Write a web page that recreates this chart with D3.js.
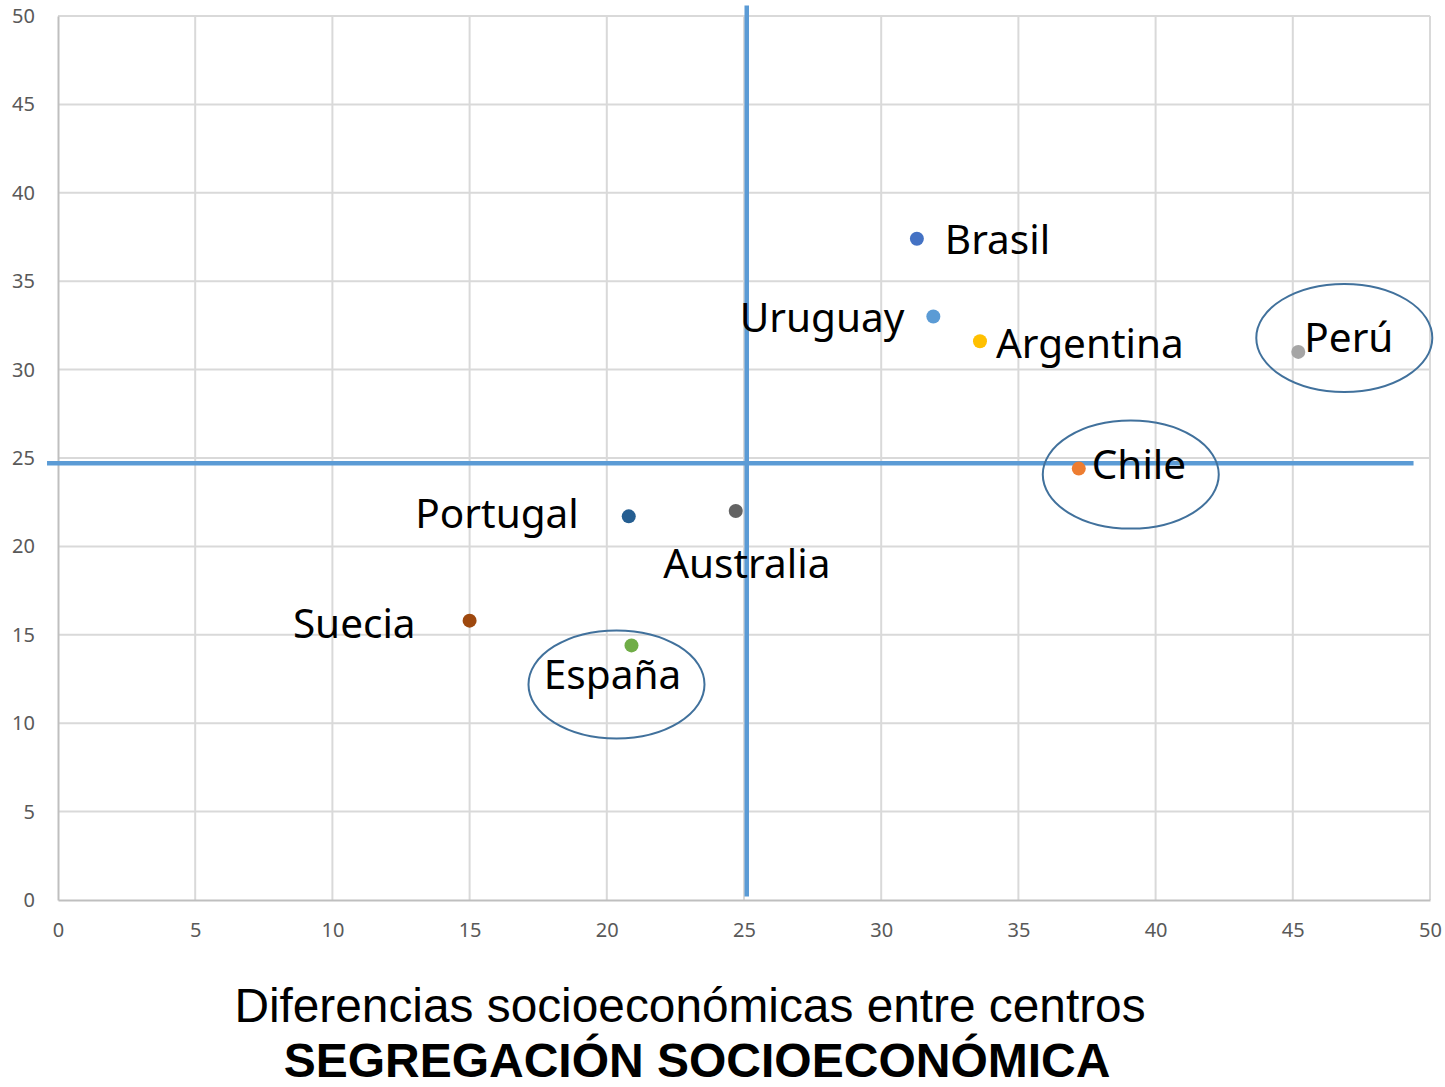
<!DOCTYPE html>
<html>
<head>
<meta charset="utf-8">
<script src="https://cdn.jsdelivr.net/npm/d3@7/dist/d3.min.js"></script>
<style>
  html, body { margin: 0; padding: 0; background: #fff; }
  svg { display: block; }
</style>
</head>
<body>
<svg id="chart" width="1445" height="1087"></svg>
<script>
// ---- Data ----
const countries = ["Brasil", "Uruguay", "Argentina", "Perú", "Chile", "Portugal", "Australia", "Suecia", "España"];
const xValues   = [31.3, 31.9, 33.6, 45.2, 37.2, 20.8, 24.7, 15.0, 20.9];
const yValues   = [37.4, 33.0, 31.6, 31.0, 24.4, 21.7, 22.0, 15.8, 14.4];
const pointColors = ["#4472C4", "#5B9BD5", "#FFC000", "#A5A5A5", "#ED7D31", "#255E91", "#636363", "#9E480E", "#70AD47"];
const highlighted = ["Perú", "Chile", "España"];
const xTicks = [0, 5, 10, 15, 20, 25, 30, 35, 40, 45, 50];
const yTicks = [0, 5, 10, 15, 20, 25, 30, 35, 40, 45, 50];
const vLineX = [25.1, 25.1];
const vLineY = [0.2, 50.6];
const hLineX = [-0.4, 49.4];
const hLineY = [24.7, 24.7];
const titleLine1 = "Diferencias socioeconómicas entre centros";
const titleLine2 = "SEGREGACIÓN SOCIOECONÓMICA";

// ---- Layout (positions / styles, kept separate from data) ----
const labelLayout = {
  "Brasil":    {anchor: "start",  dx: 28,  dy: 15},
  "Uruguay":   {anchor: "end",    dx: -29, dy: 15},
  "Argentina": {anchor: "start",  dx: 16,  dy: 17},
  "Perú":      {anchor: "start",  dx: 6,   dy: 0},
  "Chile":     {anchor: "start",  dx: 13,  dy: 10},
  "Portugal":  {anchor: "end",    dx: -50, dy: 12},
  "Australia": {anchor: "middle", dx: 11,  dy: 67},
  "Suecia":    {anchor: "end",    dx: -54, dy: 17},
  "España":    {anchor: "middle", dx: -19, dy: 44}
};
const ellipseLayout = {
  "Perú":   {dx: 46,  dy: -14},
  "Chile":  {dx: 52,  dy: 6},
  "España": {dx: -15, dy: 39}
};

const svg = d3.select("#chart");
const x = d3.scaleLinear().domain([0, 50]).range([58, 1430]);
const y = d3.scaleLinear().domain([0, 50]).range([900, 16]);

// gridlines
const grid = svg.append("g");
grid.selectAll("line.v").data(xTicks.slice(1)).join("line")
  .attr("x1", d => x(d)).attr("x2", d => x(d))
  .attr("y1", y(0)).attr("y2", y(50))
  .attr("stroke", "#D9D9D9").attr("stroke-width", 2);
grid.selectAll("line.h").data(yTicks.slice(1)).join("line")
  .attr("x1", x(0)).attr("x2", x(50))
  .attr("y1", d => y(d)).attr("y2", d => y(d))
  .attr("stroke", "#D9D9D9").attr("stroke-width", 2);

// axes
const xAxis = svg.append("g").attr("transform", `translate(0,${y(0)})`)
  .call(d3.axisBottom(x).tickValues(xTicks).tickSize(0).tickPadding(23).tickFormat(d3.format("d")));
const yAxis = svg.append("g").attr("transform", `translate(${x(0)},0)`)
  .call(d3.axisLeft(y).tickValues(yTicks).tickSize(0).tickPadding(23).tickFormat(d3.format("d")));
[xAxis, yAxis].forEach(a => {
  a.select(".domain").attr("stroke", "#BFBFBF").attr("stroke-width", 2);
  a.selectAll("text").attr("fill", "#595959").style("font-family", "'Noto Sans', sans-serif").style("font-size", "20px");
});

// reference lines
svg.append("line")
  .attr("x1", x(vLineX[0])).attr("x2", x(vLineX[1]))
  .attr("y1", y(vLineY[0])).attr("y2", y(vLineY[1]))
  .attr("stroke", "#5B9BD5").attr("stroke-width", 4.5);
svg.append("line")
  .attr("x1", x(hLineX[0])).attr("x2", x(hLineX[1]))
  .attr("y1", y(hLineY[0])).attr("y2", y(hLineY[1]))
  .attr("stroke", "#5B9BD5").attr("stroke-width", 4.5);

const pts = countries.map((c, i) => ({name: c, x: xValues[i], y: yValues[i], color: pointColors[i]}));

// points
svg.append("g").selectAll("circle").data(pts).join("circle")
  .attr("cx", d => x(d.x)).attr("cy", d => y(d.y)).attr("r", 7)
  .attr("fill", d => d.color);

// labels
svg.append("g").selectAll("text").data(pts).join("text")
  .attr("x", d => x(d.x) + labelLayout[d.name].dx)
  .attr("y", d => y(d.y) + labelLayout[d.name].dy)
  .attr("text-anchor", d => labelLayout[d.name].anchor)
  .style("font-family", "'Noto Sans', sans-serif")
  .style("font-size", "40.5px")
  .attr("fill", "#000")
  .text(d => d.name);

// highlight ellipses
svg.append("g").selectAll("ellipse").data(pts.filter(d => highlighted.includes(d.name))).join("ellipse")
  .attr("cx", d => x(d.x) + ellipseLayout[d.name].dx)
  .attr("cy", d => y(d.y) + ellipseLayout[d.name].dy)
  .attr("rx", 88).attr("ry", 54)
  .attr("fill", "none").attr("stroke", "#41719C").attr("stroke-width", 2);

// titles
svg.append("text").attr("x", 690).attr("y", 1022).attr("text-anchor", "middle")
  .style("font-family", "'Liberation Sans', Arial, sans-serif").style("font-size", "47.8px")
  .attr("fill", "#000").text(titleLine1);
svg.append("text").attr("x", 697).attr("y", 1077).attr("text-anchor", "middle")
  .style("font-family", "'Liberation Sans', Arial, sans-serif").style("font-size", "48px")
  .style("font-weight", "bold").attr("fill", "#000").text(titleLine2);
</script>
</body>
</html>
